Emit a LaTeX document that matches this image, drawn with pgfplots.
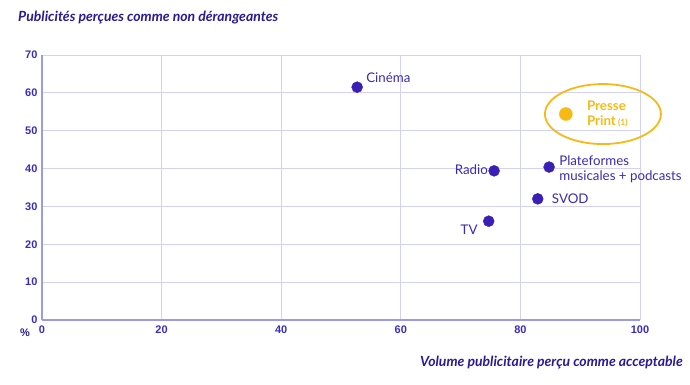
\documentclass[border=0pt]{standalone}
\usepackage{pgfplots}
\pgfplotsset{compat=1.18}
\usepackage{fontspec}
\setmainfont{Lato}
\newfontfamily\tickfont{Liberation Sans}
\definecolor{titlec}{HTML}{2A1A96}
\definecolor{ptc}{HTML}{3A1FB5}
\definecolor{labc}{HTML}{3A2CB0}
\definecolor{yel}{HTML}{F7B916}
\definecolor{gridc}{HTML}{D2D2F4}
\definecolor{axc}{HTML}{9A9AE6}
\definecolor{tickc}{HTML}{3A2CC0}
\begin{document}
\begin{tikzpicture}
\begin{axis}[
  name=ax,
  scale only axis,
  width=598pt, height=265pt,
  xmin=0, xmax=100, ymin=0, ymax=70,
  xtick={0,20,40,60,80,100},
  ytick={0,10,20,30,40,50,60,70},
  grid=major,
  major grid style={gridc, line width=0.8pt},
  axis x line*=bottom, axis y line*=left,
  axis line style={axc, line width=1.2pt, -},
  major tick length=0pt,
  tick label style={font=\tickfont\fontsize{11}{12}\selectfont\bfseries, text=tickc},
  /pgf/number format/assume math mode=true,
  xticklabel style={yshift=-2pt},
  yticklabel style={xshift=-1pt},
  clip=false,
]
\addplot[only marks, mark=*, mark size=5.5pt, ptc, mark options={draw=ptc, fill=ptc}] coordinates {
  (52.7,61.5) (75.6,39.4) (84.8,40.4) (82.9,32.0) (74.7,26.1)
};
\addplot[only marks, mark=*, mark size=6.5pt, mark options={draw=yel, fill=yel}] coordinates {
  (87.6,54.4)
};
\draw[yel, line width=1.8pt] (axis cs:93.8,54.4) ellipse [x radius=58pt, y radius=30pt];
\begin{scope}[every node/.style={font=\fontsize{13.3}{15.5}\selectfont, text=labc, inner sep=0pt}]
\node[anchor=west] at ([xshift=9pt,yshift=9pt]axis cs:52.7,61.5) {Cinéma};
\node[anchor=east] at ([xshift=-6pt,yshift=1pt]axis cs:75.6,39.4) {Radio};
\node[anchor=west, align=left] at ([xshift=10pt,yshift=-2pt]axis cs:84.8,40.4) {Plateformes\\musicales + podcasts};
\node[anchor=west] at ([xshift=14pt]axis cs:82.9,32.0) {SVOD};
\node[anchor=east] at ([xshift=-11pt,yshift=-9pt]axis cs:74.7,26.1) {TV};
\node[anchor=west, align=left, text=yel, font=\fontsize{13.3}{15.5}\selectfont\bfseries] at ([xshift=21pt,yshift=0pt]axis cs:87.6,54.4) {Presse\\Print\,{\fontsize{8.5}{9}\selectfont(1)}};
\end{scope}
\end{axis}
\node[anchor=west, font=\fontsize{14}{16}\selectfont\bfseries\itshape, text=titlec, inner sep=0pt] at ([xshift=-24pt,yshift=37pt]ax.north west) {Publicités perçues comme non dérangeantes};
\node[anchor=east, font=\fontsize{14}{16}\selectfont\bfseries\itshape, text=titlec, inner sep=0pt] at ([xshift=43pt,yshift=-43pt]ax.south east) {Volume publicitaire perçu comme acceptable};
\node[font=\tickfont\fontsize{11}{12}\selectfont\bfseries, text=titlec, inner sep=0pt] at ([xshift=-17pt,yshift=-13pt]ax.south west) {\%};
\path ([xshift=-42pt,yshift=-65pt]ax.south west) rectangle ([xshift=50pt,yshift=55pt]ax.north east);
\end{tikzpicture}
\end{document}
